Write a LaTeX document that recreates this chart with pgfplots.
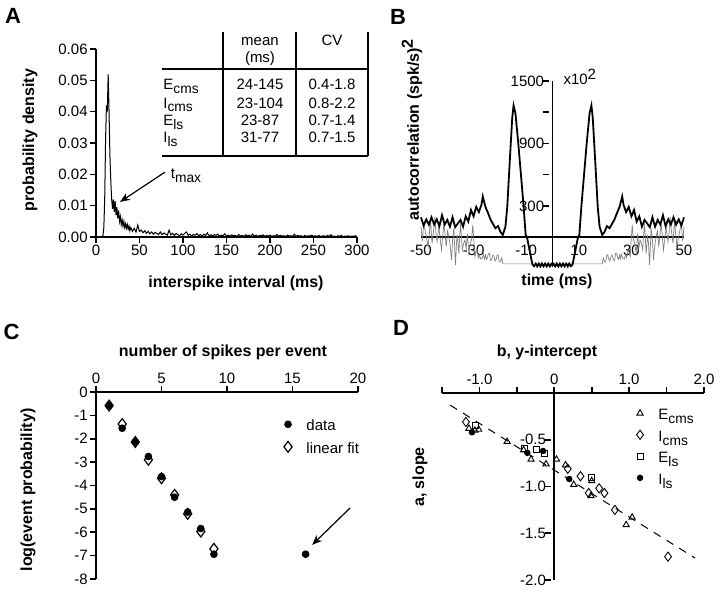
\documentclass[border=0pt]{standalone}
\usepackage{pgfplots}
\pgfplotsset{compat=1.18}
\usepackage{pgfplotstable}
\usepackage{fontspec}
\setmainfont{Liberation Sans}
\usetikzlibrary{arrows.meta}
\newcommand{\tk}{\fontsize{7.5}{9}\selectfont}
\newcommand{\lb}{\fontsize{8}{9.6}\selectfont\bfseries}
\newcommand{\pl}{\fontsize{11}{13}\selectfont\bfseries}
\newcommand{\sub}[1]{\raisebox{-0.5ex}{\fontsize{6.9}{8}\selectfont #1}}

\pgfplotstableread{
t v
0 0
7 0
8 0.0005
9 0.003
10 0.012
11 0.031
12 0.042
13 0.040
14 0.052
15 0.040
16 0.026
17 0.018
18 0.012
19 0.009
20 0.012
21 0.008
22 0.0115
23 0.007
24 0.0095
25 0.006
26 0.0085
27 0.005
28 0.0065
29 0.004
30 0.0055
31 0.0035
32 0.005
33 0.003
34 0.0042
35 0.0028
36 0.004
37 0.0025
38 0.0035
39 0.002
40 0.003
42 0.0018
44 0.0028
46 0.0016
48 0.0038
50 0.0018
52 0.0022
54 0.0014
56 0.002
58 0.0012
60 0.0018
62 0.001
64 0.0016
66 0.0009
68 0.0015
70 0.0011
72 0.0008
74 0.0016
76 0.0007
78 0.0013
80 0.0009
82 0.0006
84 0.0022
86 0.0007
88 0.0012
90 0.0005
92 0.0011
94 0.0008
96 0.0004
98 0.001
100 0.0006
102 0.0012
104 0.0016
106 0.0005
108 0.0009
110 0.0003
112 0.0008
114 0.0006
116 0.0011
118 0.0004
120 0.0008
122 0.0003
124 0.0009
126 0.0005
128 0.0013
130 0.0004
132 0.0007
134 0.0003
136 0.0008
138 0.0005
140 0.0009
142 0.0002
144 0.0006
146 0.0004
148 0.001
150 0.0003
152 0.0006
154 0.0002
156 0.0007
158 0.0004
160 0.0005
162 0.0002
164 0.0008
166 0.0003
168 0.0005
170 0.0002
172 0.0007
174 0.0004
176 0.0006
178 0.0002
180 0.0009
182 0.0003
184 0.0006
186 0.0002
188 0.0005
190 0.0004
192 0.0007
194 0.0002
196 0.0005
198 0.0003
200 0.0006
202 0.0002
204 0.0004
206 0.0003
208 0.0008
210 0.0002
212 0.0005
214 0.0003
216 0.0004
218 0.0001
220 0.0006
222 0.0003
224 0.0004
226 0.0002
228 0.0009
230 0.0002
232 0.0005
234 0.0003
236 0.0004
238 0.0001
240 0.0005
242 0.0002
244 0.0004
246 0.0003
248 0.0006
250 0.0002
252 0.0004
254 0.0001
256 0.0005
258 0.0002
260 0.0003
262 0.0004
264 0.0001
266 0.0005
268 0.0002
270 0.0007
272 0.0002
274 0.0003
276 0.0001
278 0.0004
280 0.0002
282 0.0005
284 0.0001
286 0.0003
288 0.0002
290 0.0004
292 0.0001
294 0.0003
296 0.0002
298 0.0004
300 0.0001
}\isi

\pgfplotstableread{
t v
-50 190
-49 110
-48 170
-47 120
-46 190
-45 120
-44 170
-43 105
-42 210
-41 120
-40 165
-39 100
-38 190
-37 95
-36 130
-35 165
-34 100
-33 200
-32 150
-31 260
-30 200
-29 290
-28 240
-27 310
-26.5 390
-25.5 290
-24.5 230
-23.5 165
-22.7 130
-21.7 85
-20.7 105
-19.8 50
-18.9 20
-17.9 100
-17.2 290
-16.2 750
-15.3 1150
-14.8 1265
-14.1 1190
-13 900
-12 600
-11 300
-10.2 20
-9.6 -12
-8.4 -170
-7.6 -265
-7 -280
-6.4 -255
-5.8 -282
-5.2 -255
-4.6 -282
-4 -255
-3.4 -282
-2.8 -255
-2.2 -282
-1.6 -255
-1 -282
-0.4 -258
0 -270
}\acblack

\pgfplotstableread{
t v
-50 100
-49.5 -40
-49 120
-48.4 60
-47.8 -20
-47.3 -92
-46.8 40
-46.4 164
-45.8 -60
-45.2 60
-44.7 196
-44.3 30
-43.9 -44
-43.2 100
-42.7 -20
-42.2 -124
-41.7 20
-41.3 132
-40.8 10
-40.4 -92
-39.9 60
-39.4 4
-38.9 -80
-38.4 -220
-38 -30
-37.5 84
-37.2 -100
-36.9 -268
-36.5 -60
-36.2 20
-35.6 -156
-35 132
-34.6 0
-34.3 -124
-33.8 -60
-33.3 -28
-32.8 -110
-32.4 36
-31.8 -156
-31.3 -60
-30.8 -28
-30.3 116
-29.9 -40
-29.5 -188
-29 -140
-28.6 -124
-28.2 -200
-27.8 -172
-27.3 -210
-26.7 -204
-26.2 -165
-25.8 -210
-25.5 -172
-25.1 -215
-24.8 -204
-24.4 -160
-24 -156
-23.6 -225
-23.2 -220
-22.7 -175
-22.3 -182
-21.8 -230
-21.4 -214
-21 -170
-20.7 -172
-20.2 -240
-19.8 -236
-19.3 -200
-18.9 -258
0 -258
}\acgray

\pgfplotsset{
  myax/.style={scale only axis, anchor=south west,
    scaled ticks=false,
    tick label style={font=\tk, inner sep=1pt},
    axis line style={line width=0.8pt},
    every tick/.style={black, line width=0.8pt},
    major tick length=3pt,
    tick align=outside,
    /pgf/number format/assume math mode=true,
  },
  myleg/.style={legend style={draw=none, fill=none, font=\tk, inner sep=0pt,
    nodes={inner ysep=0.5pt, inner xsep=1pt, text height=1.6ex, text depth=0.4ex}},
    legend cell align=left,
    legend image code/.code={\path (0pt,0pt) (11pt,0pt); \draw[##1] plot coordinates {(3pt,0pt)};}},
}

\begin{document}
\begin{tikzpicture}
\path[use as bounding box] (0,0) rectangle (360pt,-295pt);

% ---------------- Panel A ----------------
\begin{axis}[myax, at={(48pt,-118.5pt)}, width=130.5pt, height=94pt,
  xmin=0, xmax=300, ymin=0, ymax=0.06,
  axis x line*=bottom, axis y line*=left,
  xtick={0,50,100,150,200,250,300}, xticklabels={0,50,100,150,200,250,300},
  ytick={0,0.01,0.02,0.03,0.04,0.05,0.06},
  yticklabels={0.00,0.01,0.02,0.03,0.04,0.05,0.06},
  clip=false]
\addplot[black, line width=0.5pt] table[x=t, y=v]{\isi};
\draw[-{Stealth[length=5pt,width=4pt]}, line width=0.6pt] (axis cs:79.3,0.0207) -- (axis cs:27.6,0.0112);
\end{axis}
\node[font=\tk] at (93pt,-88pt) {t\sub{max}};
\node[font=\pl] at (6.5pt,-8pt) {A};
\node[font=\lb, rotate=90] at (15pt,-70pt) {probability density};
\node[font=\lb] at (118pt,-141.5pt) {interspike interval (ms)};
% table
\draw[line width=0.8pt] (111.5pt,-16pt) -- (111.5pt,-78pt);
\draw[line width=0.8pt] (148pt,-16pt) -- (148pt,-78pt);
\draw[line width=0.8pt] (184pt,-16pt) -- (184pt,-78pt);
\draw[line width=0.9pt] (81pt,-34.5pt) -- (184pt,-34.5pt);
\draw[line width=0.8pt] (81pt,-78pt) -- (184pt,-78pt);
\node[font=\tk, anchor=base] at (130pt,-22.7pt) {mean};
\node[font=\tk, anchor=base] at (130pt,-31.2pt) {(ms)};
\node[font=\tk, anchor=base] at (166pt,-22.7pt) {CV};
\node[font=\tk, anchor=base west, inner sep=0pt] at (81.5pt,-44.7pt) {E\sub{cms}};
\node[font=\tk, anchor=base west, inner sep=0pt] at (81.5pt,-54pt) {I\sub{cms}};
\node[font=\tk, anchor=base west, inner sep=0pt] at (81.5pt,-62.7pt) {E\sub{ls}};
\node[font=\tk, anchor=base west, inner sep=0pt] at (81.5pt,-71.2pt) {I\sub{ls}};
\node[font=\tk, anchor=base] at (130pt,-44.7pt) {24-145};
\node[font=\tk, anchor=base] at (130pt,-54pt) {23-104};
\node[font=\tk, anchor=base] at (130pt,-62.7pt) {23-87};
\node[font=\tk, anchor=base] at (130pt,-71.2pt) {31-77};
\node[font=\tk, anchor=base] at (166pt,-44.7pt) {0.4-1.8};
\node[font=\tk, anchor=base] at (166pt,-54pt) {0.8-2.2};
\node[font=\tk, anchor=base] at (166pt,-62.7pt) {0.7-1.4};
\node[font=\tk, anchor=base] at (166pt,-71.2pt) {0.7-1.5};

% ---------------- Panel B ----------------
\begin{axis}[myax, at={(210.5pt,-133.35pt)}, width=131.5pt, height=92.85pt,
  xmin=-50, xmax=50, ymin=-285, ymax=1500,
  axis lines*=middle,
  xtick={-50,-30,-10,10,30,50}, xticklabels={-50,-30,-10,10,30,50},
  xtick style={draw=none},
  ytick={300,600,900,1200,1500}, yticklabels={300,,900,,1500},
  ytick style={black, line width=0.8pt, xshift=-1.5pt},
  clip=false]
\addplot[gray, line width=0.35pt] table[x=t, y=v]{\acgray};
\addplot[gray, line width=0.35pt] table[x expr=-\thisrow{t}, y=v]{\acgray};
\addplot[black, line width=0.9pt] table[x=t, y=v]{\acblack};
\addplot[black, line width=0.9pt] table[x expr=-\thisrow{t}, y=v]{\acblack};
\node[font=\tk, anchor=west] at (axis cs:1.5,1540) {x10\raisebox{0.7ex}{2}};
\end{axis}
\node[font=\pl] at (199pt,-8.5pt) {B};
\node[font=\lb, rotate=90] at (206pt,-65pt) {autocorrelation (spk/s)\raisebox{0.7ex}{2}};
\node[font=\lb] at (278.5pt,-140.5pt) {time (ms)};

% ---------------- Panel C ----------------
\begin{axis}[myax, myleg, at={(48pt,-289.5pt)}, width=131pt, height=93.5pt,
  xmin=0, xmax=20, ymin=-8, ymax=0,
  axis x line*=top, axis y line*=left,
  xtick={0,5,10,15,20}, xticklabels={0,5,10,15,20},
  ytick={-8,-7,-6,-5,-4,-3,-2,-1,0},
  yticklabels={-8,-7,-6,-5,-4,-3,-2,-1,0},
  legend style={at={(0.707,0.767)}, anchor=west, row sep=-0.3pt},
  clip=false]
\addplot[only marks, mark=*, mark size=1.7pt, black] coordinates {
(1,-0.58) (2,-1.55) (3,-2.14) (4,-2.76) (5,-3.62) (6,-4.5) (7,-5.14) (8,-5.84) (9,-6.94) (16,-6.94)};
\addlegendentry{data}
\addplot[only marks, mark=diamond, mark size=2.7pt, black, mark options={line width=0.6pt}] coordinates {
(1,-0.58) (2,-1.37) (3,-2.14) (4,-2.9) (5,-3.69) (6,-4.4) (7,-5.21) (8,-5.97) (9,-6.71)};
\addlegendentry{linear fit}
\draw[-{Stealth[length=5pt,width=4pt]}, line width=0.6pt] (axis cs:19.4,-4.96) -- (axis cs:16.5,-6.54);
\end{axis}
\node[font=\pl] at (5.75pt,-166pt) {C};
\node[font=\lb] at (111.5pt,-176pt) {number of spikes per event};
\node[font=\lb, rotate=90] at (14pt,-245pt) {log(event probability)};

% ---------------- Panel D ----------------
\begin{axis}[myax, myleg, at={(221pt,-290pt)}, width=131pt, height=93.5pt,
  xmin=-1.5, xmax=2, ymin=-2, ymax=0,
  axis x line*=top, axis y line*=middle,
  xtick={-1.5,-1,-0.5,0,0.5,1,1.5,2}, xticklabels={,-1.0,,0,,1.0,,2.0},
  ytick={-2,-1.5,-1,-0.5}, yticklabels={-2.0,-1.5,-1.0,-0.5},
  ytick style={black, line width=0.8pt, xshift=-1.5pt},
  legend style={at={(0.73,0.719)}, anchor=west, row sep=-0.8pt},
  clip=false]
\addplot[forget plot, black, line width=0.5pt, dash pattern=on 4pt off 3.5pt] coordinates {(-1.39,-0.13) (1.88,-1.765)};
\addplot[only marks, mark=triangle, mark size=1.8pt, black, mark options={line width=0.45pt}] coordinates {
(-1.14,-0.38) (-1.01,-0.39) (-1.06,-0.40) (-0.63,-0.52) (-0.41,-0.61) (-0.31,-0.71) (-0.11,-0.76)
(0.03,-0.71) (0.15,-0.77) (0.26,-0.98) (0.50,-0.94) (0.49,-1.10) (0.96,-1.41) (1.04,-1.33)};
\addlegendentry{E\sub{cms}}
\addplot[only marks, mark=diamond, mark size=2.3pt, black, mark options={line width=0.45pt}] coordinates {
(-1.18,-0.31) (0.18,-0.81) (0.35,-0.89) (0.46,-1.07) (0.60,-1.02) (0.67,-1.07) (0.81,-1.25) (1.52,-1.75)};
\addlegendentry{I\sub{cms}}
\addplot[only marks, mark=square, mark size=1.5pt, black, mark options={line width=0.45pt}] coordinates {
(-1.05,-0.35) (-0.40,-0.59) (-0.24,-0.60) (-0.13,-0.65) (0.49,-0.90)};
\addlegendentry{E\sub{ls}}
\addplot[only marks, mark=*, mark size=1.4pt, black] coordinates {
(-1.10,-0.42) (-0.36,-0.64) (-0.15,-0.62) (0.20,-0.92)};
\addlegendentry{I\sub{ls}}
\end{axis}
\node[font=\pl] at (200.5pt,-164pt) {D};
\node[font=\lb] at (273.5pt,-176pt) {b, y-intercept};
\node[font=\lb, rotate=90] at (210pt,-238.5pt) {a, slope};
\end{tikzpicture}
\end{document}
